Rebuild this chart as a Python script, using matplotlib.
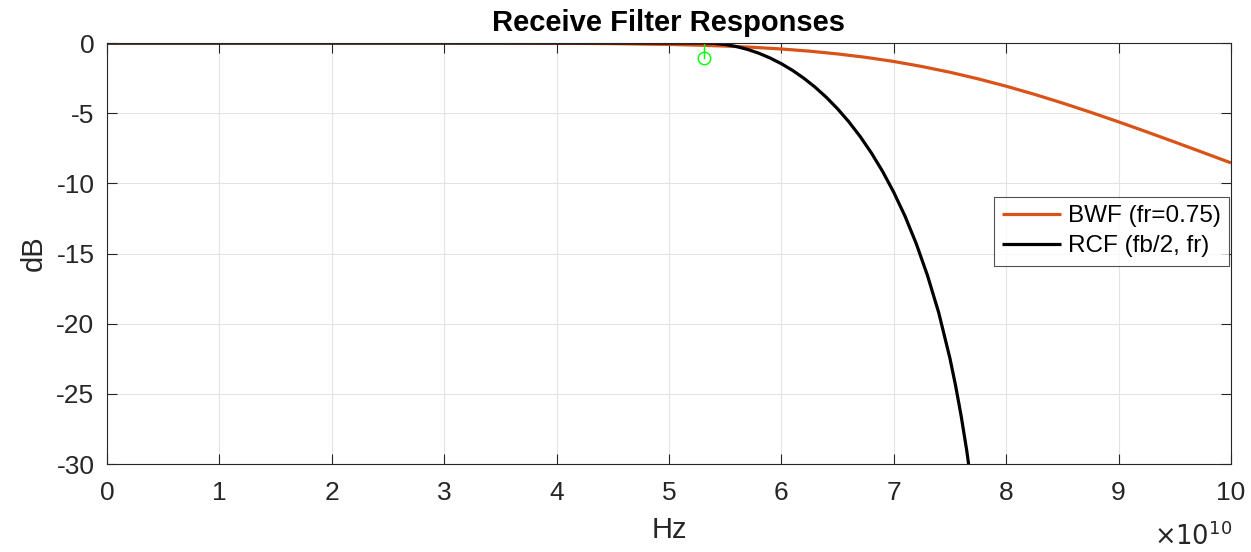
import numpy as np
import matplotlib
matplotlib.use("Agg")
import matplotlib.pyplot as plt

plt.rcParams['font.family'] = ['Liberation Sans', 'DejaVu Sans']

# ----------------------------- Data -----------------------------
# frequencies in GHz, gains in dB
bwf_freq = [0, 5, 10, 15, 20, 25, 30, 35, 40, 45, 50, 52.5, 55, 57.5, 60,
            62.5, 65, 67.5, 70, 72.5, 75, 77.5, 80, 82.5, 85, 87.5, 90,
            92.5, 95, 97.5, 100]
bwf_db = [0.0, 0.0, 0.0, 0.0, -0.0001, -0.0004, -0.0018, -0.006, -0.0175,
          -0.045, -0.103, -0.152, -0.218, -0.308, -0.427, -0.581, -0.779,
          -1.021, -1.317, -1.674, -2.085, -2.554, -3.079, -3.654, -4.275,
          -4.932, -5.621, -6.331, -7.059, -7.798, -8.543]

rcf_freq = [0, 53.125, 54, 55, 56, 57, 58, 59, 60, 61, 62, 63, 64, 65, 66,
            67, 68, 69, 70, 71, 72, 73, 74, 75, 75.5, 76, 76.5, 77]
rcf_db = [0.0, 0.0, -0.023, -0.107, -0.252, -0.460, -0.731, -1.070, -1.477,
          -1.954, -2.511, -3.147, -3.870, -4.690, -5.613, -6.652, -7.823,
          -9.142, -10.64, -12.34, -14.30, -16.57, -19.22, -22.48, -24.42,
          -26.60, -29.09, -32.04]

marker_freq = 53.125
marker_db = -1.1

xticks = list(range(0, 11))
yticks = [0, -5, -10, -15, -20, -25, -30]

# ----------------------------- Plot -----------------------------
fig = plt.figure(figsize=(12.51, 5.52), dpi=100)
ax = fig.add_axes([0.0855, 0.1594, 0.8985, 0.7627])

scale = 10.0  # GHz -> units of 1e10 Hz
ax.plot(np.array(bwf_freq) / scale, bwf_db, color="#D95319", lw=2.3,
        label="BWF (fr=0.75)", solid_capstyle="butt")
ax.plot(np.array(rcf_freq) / scale, rcf_db, color="black", lw=2.3,
        label="RCF (fb/2, fr)", solid_capstyle="butt")

# stem marker
ax.plot([marker_freq / scale, marker_freq / scale], [0, marker_db],
        color="#00FF00", lw=1.0)
ax.plot(marker_freq / scale, marker_db, "o", mfc="none", mec="#00FF00",
        ms=9, mew=1.0)

ax.set_xlim(0, 10)
ax.set_ylim(-30, 0)
ax.set_xticks(xticks)
ax.set_yticks(yticks)
ax.set_xticklabels([str(t) for t in xticks])
ax.set_yticklabels([str(t) for t in yticks])

ax.grid(True, color="#e3e3e3", lw=0.8)
ax.set_axisbelow(True)
ax.tick_params(direction="in", length=7, width=0.8, top=True, right=True,
               labelsize=19, colors="#262626", pad=12)
ax.tick_params(axis="y", pad=9)
for s in ax.spines.values():
    s.set_color("#262626")
    s.set_linewidth(0.8)

ax.set_xlabel("Hz", fontsize=21, color="#262626", labelpad=8)
ax.set_ylabel("dB", fontsize=21, color="#262626", labelpad=6)
ax.set_title("Receive Filter Responses", fontsize=21, fontweight="bold",
             pad=9)

# exponent label, MATLAB style
ax.text(1.001, -0.192, r"$\times10^{10}$", transform=ax.transAxes,
        ha="right", va="baseline", fontsize=18.5, color="#262626",
        math_fontfamily="dejavusans")

leg = ax.legend(loc="upper right", bbox_to_anchor=(0.9985, 0.635),
                fontsize=17.5, frameon=True, fancybox=False, borderpad=0.35,
                handlelength=2.4, handletextpad=0.3, labelspacing=0.33,
                borderaxespad=0)
leg.get_frame().set_edgecolor("#262626")
leg.get_frame().set_linewidth(0.8)

fig.savefig("out.png", dpi=100)
